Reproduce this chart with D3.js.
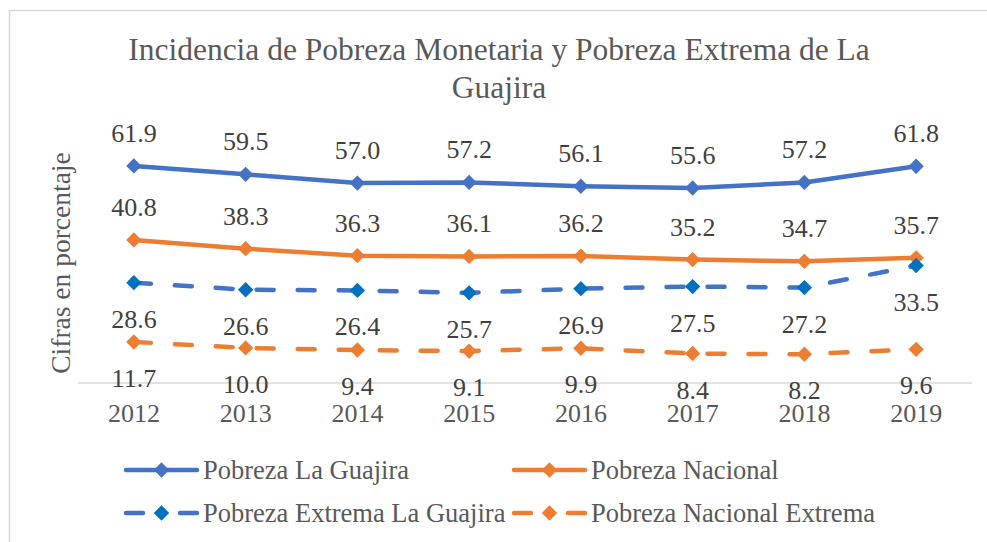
<!DOCTYPE html>
<html>
<head>
<meta charset="utf-8">
<script src="https://cdn.jsdelivr.net/npm/d3@7"></script>
<style>
  body { margin: 0; background: #fff; }
  text { font-family: "Liberation Serif", "Times New Roman", serif; }
</style>
</head>
<body>
<div id="chart-container"></div>
<script>
// Chart data
const years = ["2012", "2013", "2014", "2015", "2016", "2017", "2018", "2019"];
const pobrezaGuajira = [61.9, 59.5, 57.0, 57.2, 56.1, 55.6, 57.2, 61.8];
const pobrezaNacional = [40.8, 38.3, 36.3, 36.1, 36.2, 35.2, 34.7, 35.7];
const extremaGuajira = [28.6, 26.6, 26.4, 25.7, 26.9, 27.5, 27.2, 33.5];
const nacionalExtrema = [11.7, 10.0, 9.4, 9.1, 9.9, 8.4, 8.2, 9.6];
const seriesNames = ["Pobreza La Guajira", "Pobreza Nacional", "Pobreza Extrema La Guajira", "Pobreza Nacional Extrema"];

const series = [
    { name: seriesNames[0], values: pobrezaGuajira, color: "#4472C4", marker: "#4472C4", dashed: false, labelPos: "above" },
    { name: seriesNames[1], values: pobrezaNacional, color: "#ED7D31", marker: "#ED7D31", dashed: false, labelPos: "above" },
    { name: seriesNames[2], values: extremaGuajira, color: "#4472C4", marker: "#0070C0", dashed: true, labelPos: "below" },
    { name: seriesNames[3], values: nacionalExtrema, color: "#ED7D31", marker: "#ED7D31", dashed: true, labelPos: "below" }
];

const W = 987, H = 542;
const svg = d3.select("#chart-container")
    .append("svg")
    .attr("width", W)
    .attr("height", H);

// chart border
svg.append("rect")
    .attr("x", 9.5).attr("y", 10.5)
    .attr("width", W + 20).attr("height", H + 20)
    .attr("fill", "#fff")
    .attr("stroke", "#d9d9d9")
    .attr("stroke-width", 1.5);

// Title
const title = svg.append("text")
    .attr("text-anchor", "middle")
    .attr("fill", "#595959")
    .style("font-size", "31.5px");
title.append("tspan").attr("x", 499).attr("y", 60).text("Incidencia de Pobreza Monetaria y Pobreza Extrema de La");
title.append("tspan").attr("x", 499).attr("y", 98).text("Guajira");

// Scales
const x = d3.scaleBand()
    .domain(years)
    .range([78, 972]);

const y = d3.scaleLinear()
    .domain([0, 70])
    .range([383, 383 - 70 * 3.507]);

// x axis line
svg.append("line")
    .attr("x1", 78).attr("x2", 972)
    .attr("y1", y(0)).attr("y2", y(0))
    .attr("stroke", "#d9d9d9")
    .attr("stroke-width", 1.5);

// x tick labels
svg.selectAll(".year")
    .data(years)
    .enter()
    .append("text")
    .attr("class", "year")
    .attr("x", d => x(d) + x.bandwidth() / 2)
    .attr("y", 422)
    .attr("text-anchor", "middle")
    .attr("fill", "#595959")
    .style("font-size", "26px")
    .text(d => d);

// y axis title
svg.append("text")
    .attr("transform", "translate(70,263) rotate(-90)")
    .attr("text-anchor", "middle")
    .attr("fill", "#595959")
    .style("font-size", "27.5px")
    .text("Cifras en porcentaje");

const cx = i => x(years[i]) + x.bandwidth() / 2;
const line = d3.line()
    .x((d, i) => cx(i))
    .y(d => y(d));

const diamond = d3.symbol().type(d3.symbolDiamond2).size(150);

series.forEach(s => {
    svg.append("path")
        .datum(s.values)
        .attr("d", line)
        .attr("fill", "none")
        .attr("stroke", s.color)
        .attr("stroke-width", 4.5)
        .attr("stroke-linecap", "round")
        .attr("stroke-linejoin", "round")
        .attr("stroke-dasharray", s.dashed ? "17,24" : null);

    svg.selectAll(null)
        .data(s.values)
        .enter()
        .append("path")
        .attr("d", diamond)
        .attr("transform", (d, i) => `translate(${cx(i)},${y(d)})`)
        .attr("fill", s.marker);

    svg.selectAll(null)
        .data(s.values)
        .enter()
        .append("text")
        .attr("x", (d, i) => cx(i))
        .attr("y", d => s.labelPos === "above" ? y(d) - 24 : y(d) + 45)
        .attr("text-anchor", "middle")
        .attr("fill", "#404040")
        .style("font-size", "26px")
        .text(d => d.toFixed(1));
});

// Legend
const legendPos = [[126, 470], [514, 470], [126, 513], [514, 513]];
const legend = svg.selectAll(".legend")
    .data(series)
    .enter()
    .append("g")
    .attr("class", "legend")
    .attr("transform", (d, i) => `translate(${legendPos[i][0]},${legendPos[i][1]})`);

legend.append("line")
    .attr("x1", 0).attr("x2", 71)
    .attr("y1", 0).attr("y2", 0)
    .attr("stroke", d => d.color)
    .attr("stroke-width", 4.5)
    .attr("stroke-linecap", "round")
    .attr("stroke-dasharray", d => d.dashed ? "17,37" : null);

legend.append("path")
    .attr("d", diamond)
    .attr("transform", "translate(35.5,0)")
    .attr("fill", d => d.marker);

legend.append("text")
    .attr("x", 77)
    .attr("y", 9)
    .attr("fill", "#595959")
    .style("font-size", "26.5px")
    .text(d => d.name);
</script>
</body>
</html>
